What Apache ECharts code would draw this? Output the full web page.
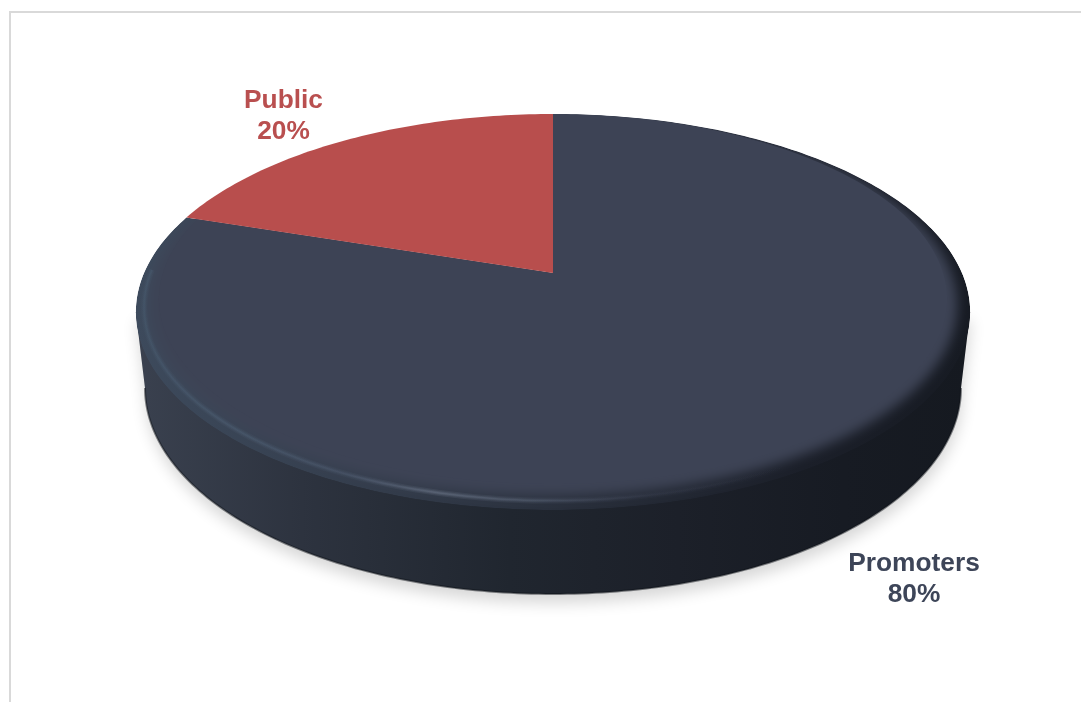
<!DOCTYPE html>
<html>
<head>
<meta charset="utf-8">
<style>html,body{margin:0;padding:0;background:#fff}#chart{width:1081px;height:702px}</style>
<script src="https://cdn.jsdelivr.net/npm/echarts@6/dist/echarts.min.js"></script>
</head>
<body>
<div id="chart"></div>
<script>
// Shareholding split
var categories = ['Promoters', 'Public'];
var shareValues = [80, 20];
var sliceColors = ['#3d4355', '#b84e4d'];
var labelColors = ['#3d4558', '#b94f4f'];

// Perspective disc: the flat unit circle is projected with a simple homography.
var disc = { cx: 553, cy: 273, k: 409, a: 190.3, c: -0.197, face: 0.975, gleam: 0.984 };
var floor = { cx: 553, cy: 388, rx: 408, ry: 206 };
var labelAnchors = [[914, 579.5], [283.5, 116.5]];
var STEPS = 180;
var OFFSTAGE = 3000;

function project(u, v) {
  var d = 1 + disc.c * v;
  return [disc.cx + disc.k * u / d, disc.cy + disc.a * v / d];
}
// theta runs clockwise from twelve o'clock; r < 1 gives a ring touching the far edge
function rimPoint(theta, r) {
  return project(r * Math.sin(theta), -r * Math.cos(theta) - (1 - r));
}
function arc(from, to, r) {
  var pts = [];
  var n = Math.max(2, Math.ceil(STEPS * Math.abs(to - from) / Math.PI));
  for (var i = 0; i <= n; i++) pts.push(rimPoint(from + (to - from) * i / n, r));
  return pts;
}
function sliceShape(from, to, r) {
  return [project(0, 0)].concat(arc(from, to, r));
}
function hGrad(stops) {
  return new echarts.graphic.LinearGradient(135, 0, 969, 0,
    stops.map(function (s) { return { offset: s[0], color: s[1] }; }), true);
}
function floorArc() {
  var pts = [];
  for (var i = 0; i <= STEPS; i++) {
    var t = Math.PI * i / STEPS;
    pts.push([floor.cx - floor.rx * Math.cos(t), floor.cy + floor.ry * Math.sin(t)]);
  }
  return pts;
}
function widest(sign) {
  // point of the rim with the largest horizontal reach
  var s = -disc.c;
  return project(sign * Math.sqrt(1 - s * s), s);
}

function renderBody() {
  var front = floorArc();
  var wall = [widest(-1)].concat(front, [widest(1)]);
  return {
    type: 'group',
    children: [
      { type: 'polygon', shape: { points: wall },
        style: { fill: '#cfcfcf', shadowColor: 'rgba(0,0,0,0.16)', shadowBlur: 15, shadowOffsetY: 9, shadowOffsetX: 1 } },
      { type: 'polygon', shape: { points: wall },
        style: { fill: hGrad([[0, '#3a414f'], [0.2, '#2d333f'], [0.45, '#20262f'], [0.65, '#1c2029'], [0.85, '#171b23'], [1, '#151920']]) } },
      { type: 'polyline', shape: { points: front },
        style: { fill: 'none', stroke: 'rgba(14,17,24,0.5)', lineWidth: 2 } }
    ]
  };
}

function gleamStops(alpha) {
  return hGrad([
    [0, 'rgba(70,88,108,' + 0.7 * alpha + ')'],
    [0.12, 'rgba(74,90,110,' + 0.8 * alpha + ')'],
    [0.25, 'rgba(74,86,106,' + 0.75 * alpha + ')'],
    [0.36, 'rgba(96,106,124,' + 0.95 * alpha + ')'],
    [0.48, 'rgba(84,94,112,' + 0.7 * alpha + ')'],
    [0.62, 'rgba(61,67,85,' + 0.3 * alpha + ')'],
    [0.78, 'rgba(61,67,85,0)'],
    [1, 'rgba(61,67,85,0)']
  ]);
}

function renderSlice(params, api) {
  var i = params.dataIndex;
  var total = shareValues.reduce(function (a, b) { return a + b; }, 0);
  var before = shareValues.slice(0, i).reduce(function (a, b) { return a + b; }, 0);
  var from = before / total * 2 * Math.PI;
  var to = (before + api.value(0)) / total * 2 * Math.PI;
  var full = sliceShape(from, to, 1);
  if (i !== 0) {
    return { type: 'polygon', shape: { points: full }, style: { fill: sliceColors[i] } };
  }
  // large slice: dark bevel ring, then only the blurred shadow of the face so its edge
  // melts into the ring, then a soft gleam along the near-left edge
  var gleamArc = arc(0.62 * Math.PI, Math.min(1.5 * Math.PI, to), disc.gleam);
  return {
    type: 'group',
    clipPath: { type: 'polygon', shape: { points: full } },
    children: [
      { type: 'polygon', shape: { points: full },
        style: { fill: hGrad([[0, '#3d4a5c'], [0.3, '#333c4b'], [0.55, '#262c38'], [0.8, '#1a1e28'], [1, '#161a22']]) } },
      { type: 'polygon', x: -OFFSTAGE, shape: { points: sliceShape(from, to, disc.face) },
        style: { fill: '#000', shadowColor: sliceColors[i], shadowBlur: 12, shadowOffsetX: OFFSTAGE } },
      { type: 'polygon', shape: { points: sliceShape(from, to, disc.face - 0.02) },
        style: { fill: sliceColors[i] } },
      { type: 'polyline', shape: { points: gleamArc },
        style: { fill: 'none', lineWidth: 6, stroke: gleamStops(0.25) } },
      { type: 'polyline', shape: { points: gleamArc },
        style: { fill: 'none', lineWidth: 3.5, stroke: gleamStops(0.4) } },
      { type: 'polyline', shape: { points: gleamArc },
        style: { fill: 'none', lineWidth: 1.5, stroke: gleamStops(0.6) } }
    ]
  };
}

function renderLabel(params, api) {
  var i = params.dataIndex;
  var total = shareValues.reduce(function (a, b) { return a + b; }, 0);
  var pct = Math.round(api.value(0) / total * 100);
  return {
    type: 'text',
    x: labelAnchors[i][0], y: labelAnchors[i][1],
    style: {
      text: categories[i] + '\n' + pct + '%',
      fill: labelColors[i],
      font: 'bold 26.3px "Liberation Sans", Arial, sans-serif',
      lineHeight: 31,
      align: 'center',
      verticalAlign: 'middle'
    }
  };
}

var chart = echarts.init(document.getElementById('chart'), null, { renderer: 'canvas' });
chart.setOption({
  animation: false,
  backgroundColor: '#ffffff',
  graphic: [
    { type: 'line', shape: { x1: 9, y1: 12, x2: 1081, y2: 12 }, style: { stroke: '#d9d9d9', lineWidth: 2 } },
    { type: 'line', shape: { x1: 10, y1: 11, x2: 10, y2: 702 }, style: { stroke: '#d9d9d9', lineWidth: 2 } }
  ],
  series: [
    { type: 'custom', coordinateSystem: 'none', z: 1, silent: true, data: [[1]], renderItem: renderBody },
    { type: 'custom', coordinateSystem: 'none', z: 2, silent: true, data: shareValues.map(function (v) { return [v]; }), renderItem: renderSlice },
    { type: 'custom', coordinateSystem: 'none', z: 3, silent: true, data: shareValues.map(function (v) { return [v]; }), renderItem: renderLabel }
  ]
});
</script>
</body>
</html>
